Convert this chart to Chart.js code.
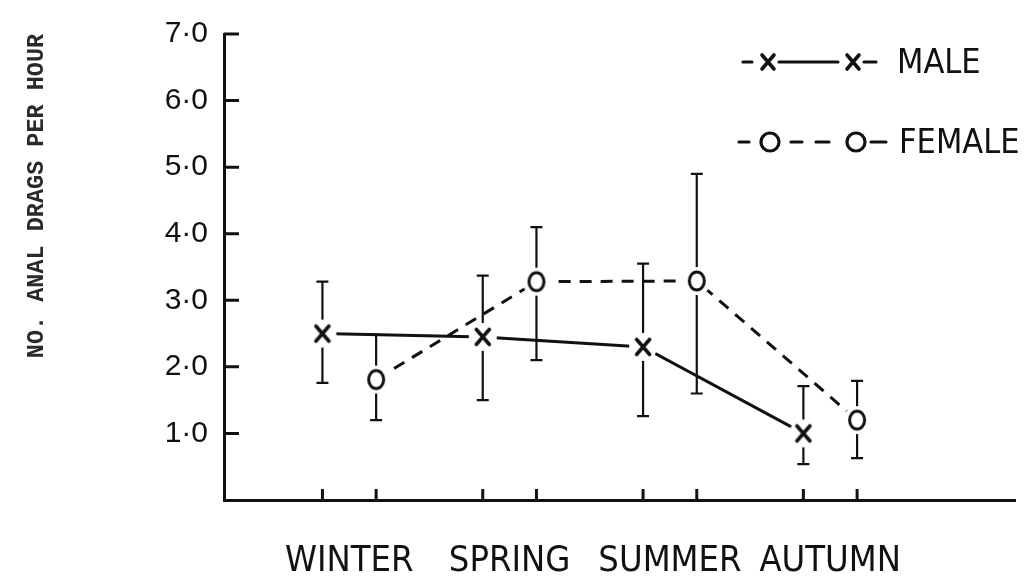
<!DOCTYPE html>
<html>
<head>
<meta charset="utf-8">
<script src="https://cdn.jsdelivr.net/npm/chart.js@4/dist/chart.umd.min.js"></script>
<style>
  body { margin: 0; background: #fff; }
  #wrap { width: 1028px; height: 584px; }
</style>
</head>
<body>
<div id="wrap"><canvas id="drags"></canvas></div>
<script>
// Data
const seasons = ["WINTER", "SPRING", "SUMMER", "AUTUMN"];
const maleMean = [2.5, 2.45, 2.3, 1.0];
const maleLow = [1.76, 1.5, 1.26, 0.54];
const maleHigh = [3.28, 3.37, 3.55, 1.71];
const femaleMean = [1.81, 3.28, 3.29, 1.2];
const femaleLow = [1.2, 2.1, 1.6, 0.63];
const femaleHigh = [2.48, 4.1, 4.9, 1.79];
const yTicks = [1, 2, 3, 4, 5, 6, 7];

const INK = "#111";
const femaleShift = 0.335; // female sits a bit right of male in each season
const narrow = '"Liberation Sans Narrow", "DejaVu Sans Condensed", "Liberation Sans", sans-serif';

// markers with a white halo so lines and bars stop short of them
function makeMark(kind) {
  const c = document.createElement("canvas");
  c.width = 30; c.height = 30;
  const g = c.getContext("2d");
  g.fillStyle = "#fff";
  g.beginPath(); g.arc(15, 15, 14, 0, Math.PI * 2); g.fill();
  g.strokeStyle = INK; g.lineCap = "round";
  if (kind === "x") {
    g.lineWidth = 3.6;
    g.beginPath();
    g.moveTo(8.5, 7.5); g.lineTo(21.5, 22.5);
    g.moveTo(21.5, 7.5); g.lineTo(8.5, 22.5);
    g.stroke();
  } else {
    g.lineWidth = 3;
    g.beginPath(); g.ellipse(15, 15, 7.5, 9, 0, 0, Math.PI * 2); g.stroke();
  }
  return c;
}

const series = [
  { mean: maleMean, low: maleLow, high: maleHigh, shift: 0 },
  { mean: femaleMean, low: femaleLow, high: femaleHigh, shift: femaleShift },
];

const errorBars = {
  id: "errorBars",
  beforeDatasetsDraw(chart) {
    const { ctx, scales: { x, y }, chartArea } = chart;
    ctx.save();
    ctx.strokeStyle = INK;
    ctx.lineWidth = 2.2;
    series.forEach(s => {
      s.mean.forEach((m, i) => {
        const px = x.getPixelForValue(i + s.shift);
        const lo = y.getPixelForValue(s.low[i]);
        const hi = y.getPixelForValue(s.high[i]);
        ctx.beginPath();
        ctx.moveTo(px, lo); ctx.lineTo(px, hi);
        ctx.moveTo(px - 6, lo); ctx.lineTo(px + 6, lo);
        ctx.moveTo(px - 6, hi); ctx.lineTo(px + 6, hi);
        ctx.stroke();
      });
    });
    // inward tick marks
    ctx.lineWidth = 3;
    ctx.beginPath();
    yTicks.forEach(v => {
      const py = y.getPixelForValue(v);
      ctx.moveTo(chartArea.left, py); ctx.lineTo(chartArea.left + 15, py);
    });
    series.forEach(s => {
      s.mean.forEach((m, i) => {
        const px = x.getPixelForValue(i + s.shift);
        ctx.moveTo(px, chartArea.bottom); ctx.lineTo(px, chartArea.bottom - 11);
      });
    });
    ctx.stroke();
    ctx.restore();
  },
  afterDraw(chart) {
    const { ctx } = chart;
    ctx.save();
    // y title
    ctx.fillStyle = "#2a2a2a";
    ctx.font = 'bold 23.5px "Liberation Mono", "DejaVu Sans Mono", monospace';
    ctx.textAlign = "center";
    ctx.textBaseline = "middle";
    ctx.translate(37, 196);
    ctx.rotate(-Math.PI / 2);
    ctx.fillText("NO. ANAL DRAGS PER HOUR", 0, 0);
    ctx.restore();

    // legend
    ctx.save();
    ctx.strokeStyle = INK;
    ctx.fillStyle = INK;
    ctx.lineCap = "round";
    const seg = (x1, x2, yy) => { ctx.beginPath(); ctx.moveTo(x1, yy); ctx.lineTo(x2, yy); ctx.stroke(); };
    const cross = (cx, cy) => {
      ctx.save();
      ctx.lineWidth = 3.6;
      ctx.beginPath();
      ctx.moveTo(cx - 6, cy - 7); ctx.lineTo(cx + 6, cy + 7);
      ctx.moveTo(cx + 6, cy - 7); ctx.lineTo(cx - 6, cy + 7);
      ctx.stroke();
      ctx.restore();
    };
    const ring = (cx, cy) => { ctx.beginPath(); ctx.ellipse(cx, cy, 9, 9, 0, 0, Math.PI * 2); ctx.stroke(); };
    let ly = 62;
    ctx.lineWidth = 3.2;
    seg(743, 752, ly); cross(768, ly); seg(779, 838, ly); cross(853, ly); seg(864, 876, ly);
    ly = 142;
    seg(739, 749, ly); ring(770, ly); seg(791, 802, ly); seg(816, 829, ly); ring(856, ly); seg(871, 886, ly);
    ctx.font = "34px " + narrow;
    ctx.textAlign = "left";
    ctx.textBaseline = "middle";
    ctx.fillText("MALE", 897, 64);
    ctx.fillText("FEMALE", 899, 144);
    ctx.restore();
  }
};

new Chart(document.getElementById("drags"), {
  type: "line",
  data: {
    datasets: [
      {
        label: "MALE",
        data: maleMean.map((v, i) => ({ x: i, y: v })),
        borderColor: INK,
        borderWidth: 3,
        pointStyle: makeMark("x"),
        pointRadius: 10,
        tension: 0,
      },
      {
        label: "FEMALE",
        data: femaleMean.map((v, i) => ({ x: i + femaleShift, y: v })),
        borderColor: INK,
        borderWidth: 3,
        borderDash: [12, 9],
        pointStyle: makeMark("o"),
        pointRadius: 10,
        tension: 0,
      },
    ],
  },
  options: {
    responsive: true,
    maintainAspectRatio: false,
    animation: false,
    layout: { padding: { top: 24, right: 13, left: 0, bottom: 0 } },
    plugins: {
      legend: { display: false },
      tooltip: { enabled: false },
    },
    scales: {
      x: {
        type: "linear",
        min: -0.614,
        max: 4.32,
        grid: { display: false, drawTicks: false },
        border: { display: true, color: INK, width: 3 },
        afterBuildTicks: (scale) => {
          scale.ticks = seasons.map((s, i) => ({ value: i + femaleShift / 2 }));
        },
        afterFit: (scale) => { scale.height = 84; },
        ticks: {
          autoSkip: false,
          maxRotation: 0,
          padding: 40,
          color: INK,
          font: { family: narrow, size: 36 },
          callback: (v, i) => seasons[i],
        },
      },
      y: {
        min: 0,
        max: 7,
        grid: { display: false, drawTicks: false },
        border: { display: true, color: INK, width: 3 },
        afterFit: (scale) => { scale.width = 224; },
        ticks: {
          stepSize: 1,
          padding: 16,
          color: INK,
          font: { family: '"Liberation Sans", sans-serif', size: 30 },
          callback: (v) => (v === 0 ? "" : v.toFixed(1).replace(".", "\u00b7")),
        },
      },
    },
  },
  plugins: [errorBars],
});
</script>
</body>
</html>
